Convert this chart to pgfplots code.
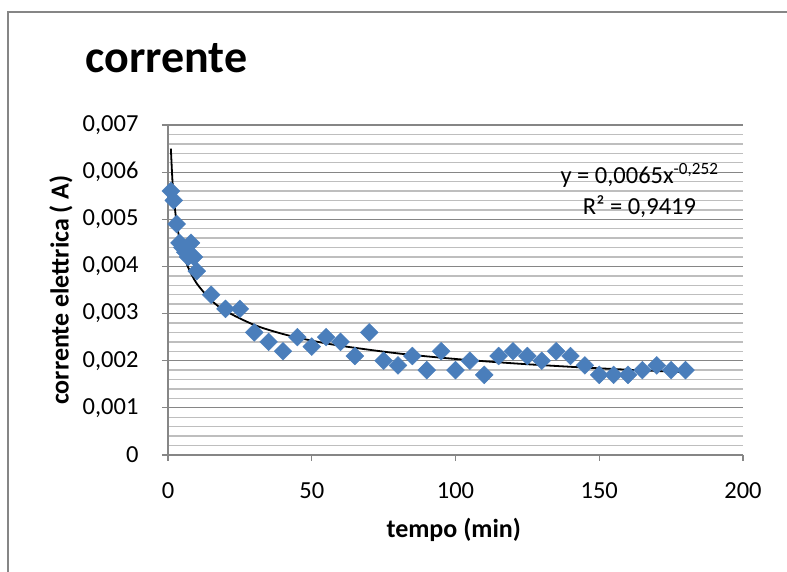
\documentclass[border=0pt]{standalone}
\usepackage{pgfplots}
\pgfplotsset{compat=1.18}
\usepackage{fontspec}
\setmainfont{Carlito}
\definecolor{axgray}{RGB}{134,134,134}
\definecolor{mingray}{RGB}{190,190,190}
\definecolor{ptblue}{RGB}{74,126,187}
\begin{document}
\begin{tikzpicture}
\useasboundingbox (-168pt,-117pt) rectangle (619pt,455pt);
\draw[axgray, line width=1.2pt] (-160pt,-117pt) -- (-160pt,443pt) -- (619pt,443pt);
\node[anchor=base west, font=\fontsize{46}{50}\selectfont\bfseries] at (-86pt,382pt) {corrente};
\begin{axis}[
  at={(0,0)}, anchor=south west,
  scale only axis,
  width=575pt, height=330pt,
  xmin=0, xmax=200,
  ymin=0, ymax=0.007,
  axis lines=left,
  axis line style={axgray, line width=1.2pt, -},
  xtick={0,50,100,150,200},
  xticklabels={0,50,100,150,200},
  ytick={0,0.001,0.002,0.003,0.004,0.005,0.006,0.007},
  yticklabels={0,{0,001},{0,002},{0,003},{0,004},{0,005},{0,006},{0,007}},
  scaled y ticks=false,
  minor y tick num=4,
  ymajorgrids, yminorgrids,
  major grid style={axgray, line width=1.2pt},
  minor grid style={mingray, line width=1.4pt},
  tick align=outside,
  major tick length=6pt,
  minor tick length=0pt,
  tick style={axgray, line width=1.2pt},
  ticklabel style={font=\fontsize{24.5}{28}\selectfont, text=black},
  yticklabel style={xshift=-20pt},
  xticklabel style={yshift=-18pt},
  xlabel={tempo (min)},
  ylabel={corrente elettrica ( A)},
  label style={font=\fontsize{26}{30}\selectfont\bfseries},
  xlabel style={at={(axis description cs:0.497,-0.227)}, anchor=center},
  ylabel style={at={(axis description cs:-0.186,0.5)}, anchor=center},
  clip=false,
]
\addplot[only marks, mark=square*, mark size=6.3pt,
  mark options={rotate=45, fill=ptblue, draw=ptblue}]
  coordinates {
  (1,0.0056) (2,0.0054) (3,0.0049) (4,0.0045) (5,0.0044) (6,0.0043)
  (7,0.0042) (8,0.0045) (9,0.0042) (10,0.0039) (15,0.0034) (20,0.0031)
  (25,0.0031) (30,0.0026) (35,0.0024) (40,0.0022) (45,0.0025) (50,0.0023)
  (55,0.0025) (60,0.0024) (65,0.0021) (70,0.0026) (75,0.0020) (80,0.0019)
  (85,0.0021) (90,0.0018) (95,0.0022) (100,0.0018) (105,0.0020) (110,0.0017)
  (115,0.0021) (120,0.0022) (125,0.0021) (130,0.0020) (135,0.0022) (140,0.0021)
  (145,0.0019) (150,0.0017) (155,0.0017) (160,0.0017) (165,0.0018) (170,0.0019)
  (175,0.0018) (180,0.0018)
  };
\addplot[black, line width=1.8pt, smooth] coordinates {
  (1,0.006500) (1.5,0.005869) (2,0.005458) (3,0.004928) (4,0.004583)
  (5,0.004333) (7,0.003981) (10,0.003639) (15,0.003285) (20,0.003055)
  (30,0.002759) (40,0.002566) (50,0.002426) (60,0.002317) (80,0.002155)
  (100,0.002037) (120,0.001945) (140,0.001871) (160,0.001809) (180,0.001756)
  };
\node[align=center, font=\fontsize{24.5}{31}\selectfont] at (axis cs:164,0.00562)
  {y = 0,0065x\textsuperscript{-0,252}\\R² = 0,9419};
\end{axis}
\end{tikzpicture}
\end{document}
